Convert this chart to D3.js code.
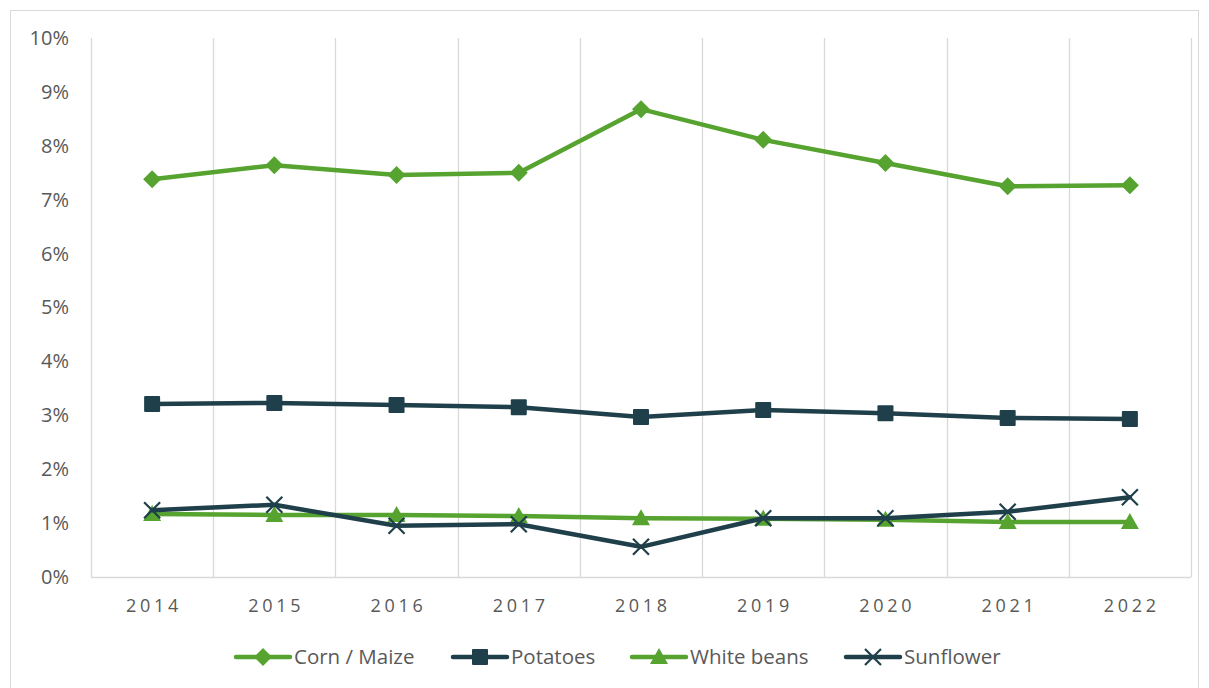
<!DOCTYPE html>
<html>
<head>
<meta charset="utf-8">
<script src="https://cdn.jsdelivr.net/npm/d3@7"></script>
<style>
    body { margin: 0; background: #fff; }
    svg text { font-family: "Open Sans", "Liberation Sans", sans-serif; fill: #595959; }
</style>
</head>
<body>
<div class="container"></div>
<script>
const WIDTH = 1209;
const HEIGHT = 688;

var years = ['2014', '2015', '2016', '2017', '2018', '2019', '2020', '2021', '2022'];
var corn = [7.38, 7.64, 7.46, 7.50, 8.68, 8.11, 7.68, 7.25, 7.27];
var potatoes = [3.21, 3.23, 3.19, 3.15, 2.97, 3.10, 3.04, 2.95, 2.93];
var whiteBeans = [1.17, 1.15, 1.15, 1.13, 1.09, 1.08, 1.06, 1.02, 1.02];
var sunflower = [1.24, 1.34, 0.95, 0.98, 0.56, 1.09, 1.09, 1.21, 1.48];
var yTicks = [0, 1, 2, 3, 4, 5, 6, 7, 8, 9, 10];

var GREEN = '#56a32f';
var DARK = '#1f404a';

var _series = [
    {name: 'Corn / Maize', values: corn, color: GREEN, marker: 'diamond'},
    {name: 'Potatoes', values: potatoes, color: DARK, marker: 'square'},
    {name: 'White beans', values: whiteBeans, color: GREEN, marker: 'triangle'},
    {name: 'Sunflower', values: sunflower, color: DARK, marker: 'cross'}
];

var _xScale = d3.scaleBand().domain(years).range([91, 1191]);
var _yScale = d3.scaleLinear().domain([0, 10]).range([577, 38]);

var translate = function (x, y) {
    return 'translate(' + x + ',' + y + ')';
};

var drawMarker = function (g, type, color) {
    if (type === 'diamond') {
        g.append('path').attr('d', 'M0,-9L9,0L0,9L-9,0Z').attr('fill', color);
    } else if (type === 'square') {
        g.append('rect').attr('x', -8).attr('y', -8).attr('width', 16).attr('height', 16)
            .attr('rx', 1).attr('fill', color);
    } else if (type === 'triangle') {
        g.append('path').attr('d', 'M0,-9L9,7L-9,7Z').attr('fill', color);
    } else {
        g.append('path').attr('d', 'M-8,-8L8,8M-8,8L8,-8')
            .attr('stroke', color).attr('stroke-width', 2.2).attr('fill', 'none');
    }
};

var drawChart = function () {
    var svg = d3.select('.container').append('svg')
        .attr('width', WIDTH)
        .attr('height', HEIGHT);

    svg.append('rect')
        .attr('x', 10.5).attr('y', 10.5)
        .attr('width', 1188).attr('height', 690)
        .attr('fill', '#fff').attr('stroke', '#d9d9d9');

    // vertical gridlines at category boundaries
    var bounds = years.map(function (y) { return _xScale(y); }).concat([_xScale.range()[1]]);
    svg.append('g').selectAll('line')
        .data(bounds)
        .enter().append('line')
        .attr('x1', function (d) { return Math.round(d) + 0.5; })
        .attr('x2', function (d) { return Math.round(d) + 0.5; })
        .attr('y1', _yScale(10))
        .attr('y2', _yScale(0))
        .attr('stroke', '#d9d9d9')
        .attr('stroke-width', 1.3);

    svg.append('line')
        .attr('x1', 91).attr('x2', 1191)
        .attr('y1', _yScale(0) + 0.5).attr('y2', _yScale(0) + 0.5)
        .attr('stroke', '#d9d9d9').attr('stroke-width', 1.3);

    // y axis labels
    var yAxis = d3.axisLeft(_yScale)
        .tickValues(yTicks)
        .tickSize(0)
        .tickPadding(0)
        .tickFormat(function (d) { return d + '%'; });
    var yg = svg.append('g').attr('transform', translate(69, 0)).call(yAxis);
    yg.select('.domain').remove();
    yg.selectAll('text').attr('font-size', 20).attr('fill', '#595959')
        .style('font-family', '"Open Sans", sans-serif');

    // x axis labels
    var xAxis = d3.axisBottom(_xScale).tickSize(0).tickPadding(0);
    var xg = svg.append('g').attr('transform', translate(0, 0)).call(xAxis);
    xg.select('.domain').remove();
    xg.selectAll('text').attr('font-size', 18).attr('fill', '#595959')
        .attr('y', 612).attr('dy', 0)
        .attr('letter-spacing', 3.7).attr('dx', 1.85)
        .style('font-family', '"Open Sans", sans-serif');

    var line = d3.line()
        .x(function (d, i) { return _xScale(years[i]) + _xScale.bandwidth() / 2; })
        .y(function (d) { return _yScale(d); });

    _series.forEach(function (s) {
        svg.append('path')
            .datum(s.values)
            .attr('d', line)
            .attr('fill', 'none')
            .attr('stroke', s.color)
            .attr('stroke-width', 4.5)
            .attr('stroke-linejoin', 'round')
            .attr('stroke-linecap', 'round');

        svg.append('g').selectAll('g')
            .data(s.values)
            .enter().append('g')
            .attr('transform', function (d, i) {
                return translate(_xScale(years[i]) + _xScale.bandwidth() / 2, _yScale(d));
            })
            .each(function () { drawMarker(d3.select(this), s.marker, s.color); });
    });

    // legend
    var legendX = [236, 453, 632, 846];
    var legend = svg.append('g').selectAll('g')
        .data(_series)
        .enter().append('g')
        .attr('transform', function (d, i) { return translate(legendX[i], 657); });

    legend.append('line')
        .attr('x1', 0).attr('x2', 54)
        .attr('stroke', function (d) { return d.color; })
        .attr('stroke-width', 4.5)
        .attr('stroke-linecap', 'round');

    legend.each(function (d) {
        var g = d3.select(this).append('g').attr('transform', translate(27, 0));
        drawMarker(g, d.marker, d.color);
    });

    legend.append('text')
        .attr('x', 58)
        .attr('y', 7)
        .attr('font-size', 20.5)
        .text(function (d) { return d.name; });
};

window.onload = drawChart;
</script>
</body>
</html>
